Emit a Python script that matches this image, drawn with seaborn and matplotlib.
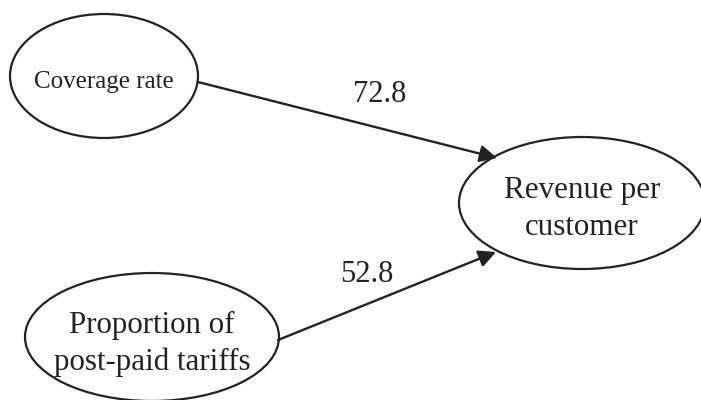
import matplotlib
matplotlib.use("Agg")
import matplotlib.pyplot as plt
import seaborn as sns
from matplotlib.patches import Ellipse

# Nodes of the path diagram (pixel space of the 701x400 picture, y downwards)
node_names = ["Coverage rate", "Revenue per\ncustomer", "Proportion of\npost-paid tariffs"]
node_x = [104, 582, 152]
node_y = [76, 203, 337]
node_w = [188, 246, 254]
node_h = [124, 132, 128]
node_fontsize = [18, 22.3, 22.3]
label_y = [82, 209, 344]

# Edges: source node -> target node with path coefficient
edge_src = [0, 2]
edge_dst = [1, 1]
edge_start = [(198, 82), (278, 340)]
edge_end = [(497, 158), (496, 252)]
edge_weights = ["72.8", "52.8"]
edge_label_pos = [(380, 94), (367, 274)]

sns.set_theme(style="white")
plt.rcParams["font.family"] = ["Liberation Serif", "DejaVu Serif"]

fig = plt.figure(figsize=(7.01, 4.0), dpi=100)
ax = fig.add_axes([0, 0, 1, 1])
ax.set_xlim(0, 701)
ax.set_ylim(400, 0)
ax.axis("off")

ink = "#222222"

for name, x, y, w, h, fs, ty in zip(node_names, node_x, node_y, node_w, node_h,
                                     node_fontsize, label_y):
    ax.add_patch(Ellipse((x, y), w, h, facecolor="white", edgecolor=ink, lw=1.6))
    ax.text(x, ty, name, ha="center", va="center", fontsize=fs, color=ink,
            linespacing=1.35)

for start, end, label, pos in zip(edge_start, edge_end, edge_weights, edge_label_pos):
    ax.annotate("", xy=end, xytext=start,
                arrowprops=dict(arrowstyle="-|>", color=ink, lw=1.7,
                                mutation_scale=26, shrinkA=0, shrinkB=0))
    ax.text(pos[0], pos[1], label, ha="center", va="center", fontsize=22, color=ink)

fig.savefig("out.png", dpi=100)
plt.close(fig)
